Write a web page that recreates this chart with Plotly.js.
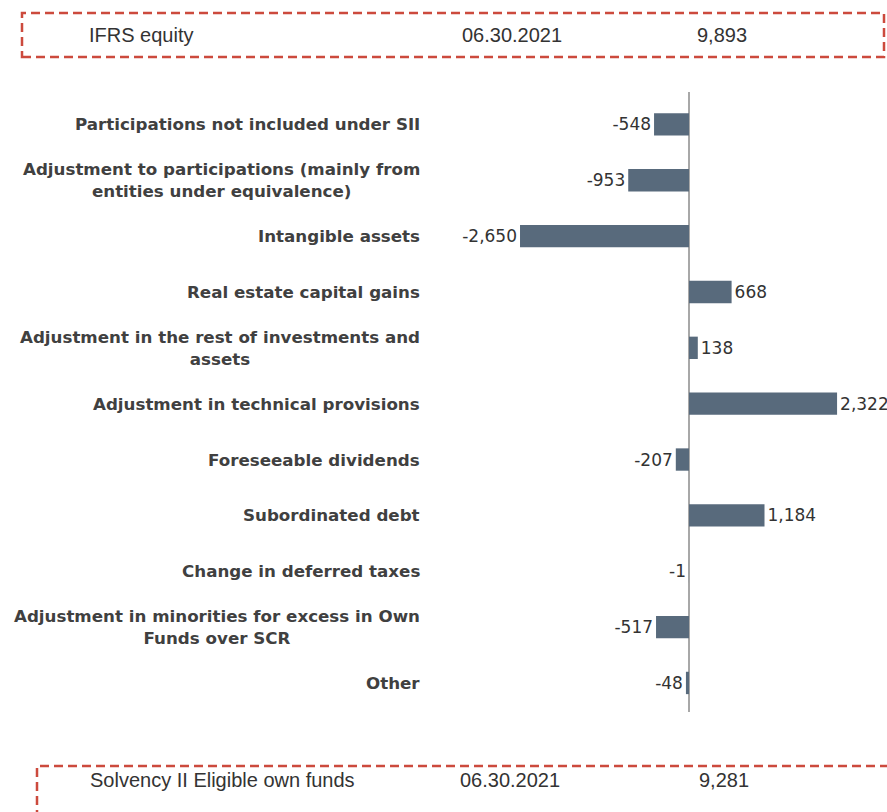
<!DOCTYPE html>
<html>
<head>
<meta charset="utf-8">
<script src="https://cdn.plot.ly/plotly-3.0.1.min.js"></script>
<style>html,body{margin:0;padding:0;background:#fff;}#chart{width:887px;height:812px;}</style>
</head>
<body>
<div id="chart"></div>
<script>
// ---- data ----
const categories = [
  "Participations not included under SII",
  "Adjustment to participations (mainly from<br>entities under equivalence)",
  "Intangible assets",
  "Real estate capital gains",
  "Adjustment in the rest of investments and<br>assets",
  "Adjustment in technical provisions",
  "Foreseeable dividends",
  "Subordinated debt",
  "Change in deferred taxes",
  "Adjustment in minorities for excess in Own<br>Funds over SCR",
  "Other"
];
const values = [-548, -953, -2650, 668, 138, 2322, -207, 1184, -1, -517, -48];
const headerRow = ["IFRS equity", "06.30.2021", "9,893"];
const footerRow = ["Solvency II Eligible own funds", "06.30.2021", "9,281"];

// ---- layout helpers (pixel -> paper) ----
const W = 887, H = 812;
const mL = 430, mR = 0, mT = 92, mB = 100;
const pw = W - mL - mR, ph = H - mT - mB;
const px = x => (x - mL) / pw;
const py = y => (H - mB - y) / ph;

const RED = "#cc4a3d";
const dashLine = {color: RED, width: 2.5, dash: "9px,5px"};

const fmt = v => v.toLocaleString("en-US");

const trace = {
  type: "bar",
  orientation: "h",
  y: categories,
  x: values,
  marker: {color: "#586a7c"},
  text: values.map(fmt),
  textposition: "outside",
  constraintext: "none",
  cliponaxis: false,
  textfont: {family: "DejaVu Sans", size: 17, color: "#333"},
  hoverinfo: "skip"
};

const annotations = [];
categories.forEach(c => {
  annotations.push({
    xref: "paper", yref: "y", x: px(422), y: c,
    xanchor: "right", yanchor: "middle", align: "center",
    text: c, showarrow: false,
    font: {family: "DejaVu Sans", size: 16.7, color: "#404040", weight: "bold"}
  });
});
const boxFont = {family: "Liberation Sans", size: 20, color: "#333"};
const headerX = [87, 460, 695];
const footerX = [88, 458, 697];
headerRow.forEach((t, i) => annotations.push({
  xref: "paper", yref: "paper", x: px(headerX[i]), y: py(35),
  xanchor: "left", yanchor: "middle", text: t, showarrow: false, font: boxFont
}));
footerRow.forEach((t, i) => annotations.push({
  xref: "paper", yref: "paper", x: px(footerX[i]), y: py(780),
  xanchor: "left", yanchor: "middle", text: t, showarrow: false, font: boxFont
}));

const shapes = [
  {type: "rect", xref: "paper", yref: "paper", x0: px(22), x1: px(884), y0: py(57), y1: py(13), line: dashLine, fillcolor: "rgba(0,0,0,0)"},
  {type: "rect", xref: "paper", yref: "paper", x0: px(37), x1: px(900), y0: py(830), y1: py(766), line: dashLine, fillcolor: "rgba(0,0,0,0)"}
];

const layout = {
  width: W, height: H,
  margin: {l: mL, r: mR, t: mT, b: mB, pad: 0},
  paper_bgcolor: "#fff", plot_bgcolor: "#fff",
  showlegend: false,
  bargap: 0.6,
  xaxis: {
    range: [(0 - 689 + mL) / 0.06377, (887 - 689) / 0.06377],
    showgrid: false, showticklabels: false, ticks: "",
    zeroline: true, zerolinecolor: "#a8a8a8", zerolinewidth: 1.5,
    showline: false, fixedrange: true
  },
  yaxis: {
    type: "category",
    categoryorder: "array", categoryarray: categories,
    range: [10.52, -0.58],
    showgrid: false, showticklabels: false, ticks: "",
    zeroline: false, showline: false, fixedrange: true
  },
  annotations: annotations,
  shapes: shapes
};

Plotly.newPlot("chart", [trace], layout, {displayModeBar: false, staticPlot: true});
</script>
</body>
</html>
